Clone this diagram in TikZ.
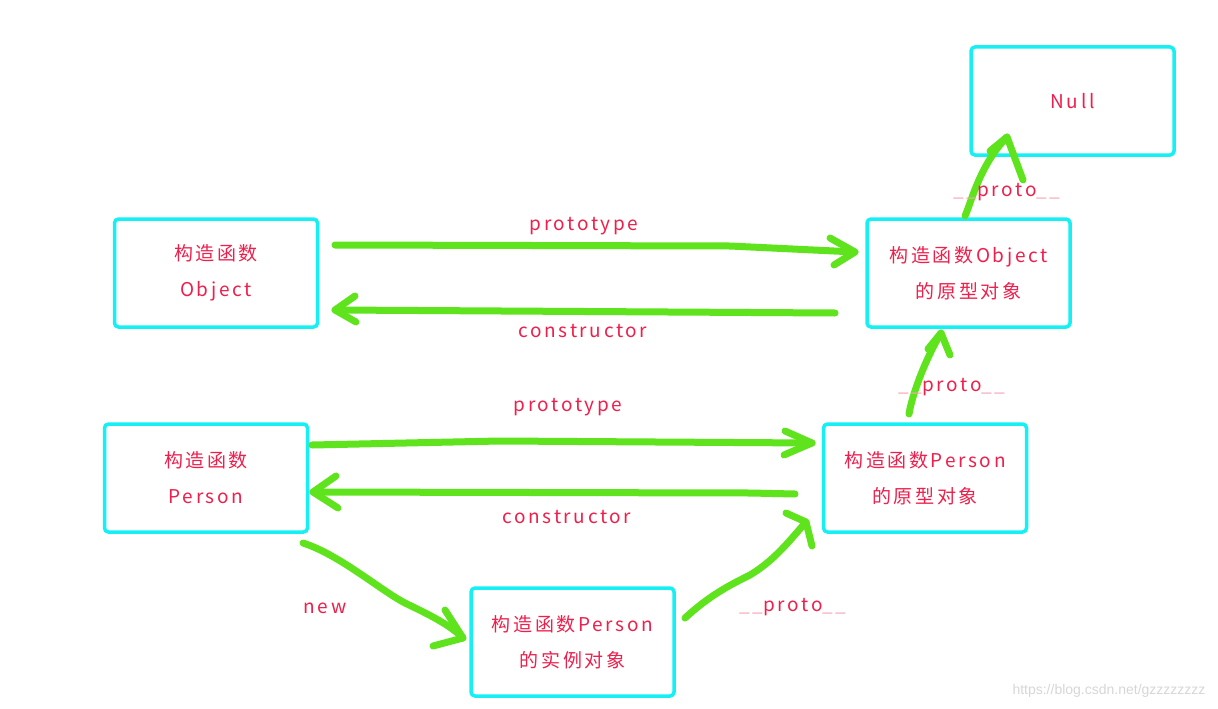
\documentclass[tikz,border=0pt]{standalone}
\usepackage{fontspec}
\setmainfont[LetterSpace=14]{Noto Sans CJK SC}
\newfontfamily\wmfont{Liberation Sans}
\definecolor{boxcyan}{HTML}{14F0F4}
\definecolor{arrgreen}{HTML}{5EE31C}
\definecolor{txtred}{HTML}{EE1F4C}
\definecolor{uscore}{HTML}{F6A5B5}
\definecolor{wmgray}{HTML}{D6D6D6}
\tikzset{
  obox/.style={draw=boxcyan, line width=3.5pt, rounded corners=4pt, minimum width=203pt, minimum height=108pt, align=center, text=txtred, font=\fontsize{19}{36}\selectfont},
  garrow/.style={draw=arrgreen, line width=7pt, line cap=round, line join=round},
  lbl/.style={text=txtred, font=\fontsize{19}{22}\selectfont},
}
\newcommand{\us}{\textcolor{uscore}{\_\_}}
\begin{document}
\begin{tikzpicture}[x=1pt,y=-1pt]
\useasboundingbox (0,0) rectangle (1218,709);
% boxes
\node[obox] (null) at (1072.5,101) {Null};
\node[obox] (octor) at (216,273) {构造函数\\Object};
\node[obox] (oproto) at (968.5,273) {构造函数Object\\的原型对象};
\node[obox] (pctor) at (206,478) {构造函数\\Person};
\node[obox] (pproto) at (925,478) {构造函数Person\\的原型对象};
\node[obox] (inst) at (572.5,642) {构造函数Person\\的实例对象};
% coordinates for arrow ends
\coordinate (a1s) at (335,245);
\coordinate (a1t) at (855,252);
\coordinate (a2s) at (835,313);
\coordinate (a2t) at (335,310);
\coordinate (a3s) at (312,445);
\coordinate (a3t) at (812,443);
\coordinate (a4s) at (795,494);
\coordinate (a4t) at (313,492);
\coordinate (a5s) at (303,543);
\coordinate (a5t) at (463,638);
\coordinate (a6s) at (685,618);
\coordinate (a6t) at (806,522);
\coordinate (a7s) at (909,414);
\coordinate (a7t) at (941,333);
\coordinate (a8s) at (965,216);
\coordinate (a8t) at (1007,137);
% arrows
\draw[garrow] (a1s) -- (730,246) -- (a1t);
\draw[garrow] (830,238) -- (a1t) -- (834,265);
\draw[garrow] (a2s) -- (a2t);
\draw[garrow] (355,296) -- (a2t) -- (356,322);
\draw[garrow] (a3s) -- (500,441) -- (a3t);
\draw[garrow] (785,431) -- (a3t) -- (784,455);
\draw[garrow] (a4s) -- (750,493) -- (a4t);
\draw[garrow] (336,476) -- (a4t) -- (338,508);
\draw[garrow] (a5s) .. controls (340,555) and (380,590) .. (405,603) .. controls (430,615) and (450,625) .. (a5t);
\draw[garrow] (445,610) -- (a5t) -- (433,646);
\draw[garrow] (a6s) .. controls (710,595) and (730,585) .. (750,575) .. controls (775,560) and (790,540) .. (a6t);
\draw[garrow] (786,513) -- (a6t) -- (812,546);
\draw[garrow] (a7s) .. controls (912,395) and (925,360) .. (a7t);
\draw[garrow] (928,349) -- (a7t) -- (950,355);
\draw[garrow] (a8s) .. controls (972,200) and (980,165) .. (a8t);
\draw[garrow] (990,151) -- (a8t) -- (1023,180);
% labels
\node[lbl] (l1) at (584,226) {prototype};
\node[lbl] (l2) at (583,331) {constructor};
\node[lbl] (l3) at (568,407) {prototype};
\node[lbl] (l4) at (567,517) {constructor};
\node[lbl] (l5) at (325,608) {new};
\node[lbl] (l6) at (793,607) {\us proto\us};
\node[lbl] (l7) at (952,387) {\us proto\us};
\node[lbl] (l8) at (1007,192) {\us proto\us};
\node[text=wmgray, font=\wmfont\fontsize{14}{16}\selectfont, anchor=east] (wm) at (1209,691) {https://blog.csdn.net/gzzzzzzzz};
\end{tikzpicture}
\end{document}
